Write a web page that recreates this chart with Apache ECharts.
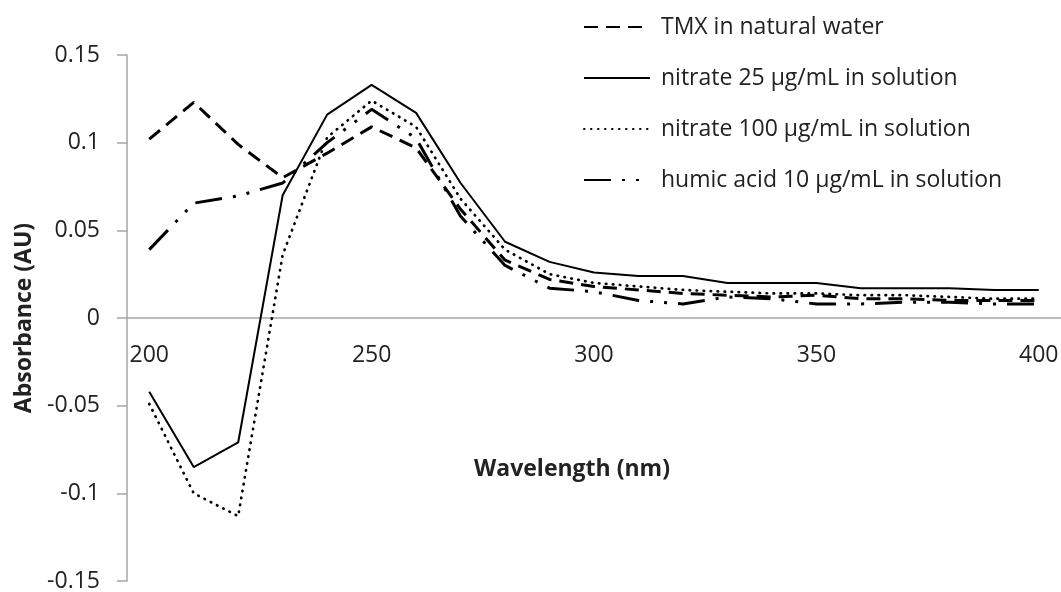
<!DOCTYPE html>
<html>
<head>
<meta charset="utf-8">
<script src="https://cdn.jsdelivr.net/npm/echarts@6/dist/echarts.min.js"></script>
<style>
  html, body { margin: 0; padding: 0; background: #fff; }
  #chart { width: 1061px; height: 592px; }
</style>
</head>
<body>
<div id="chart"></div>
<script>
const wavelengths = ['200', '210', '220', '230', '240', '250', '260', '270', '280', '290', '300',
  '310', '320', '330', '340', '350', '360', '370', '380', '390', '400'];

const tmxWater = [0.102, 0.123, 0.099, 0.080, 0.094, 0.109, 0.097, 0.062, 0.033, 0.022, 0.018,
  0.016, 0.014, 0.013, 0.012, 0.013, 0.011, 0.011, 0.010, 0.010, 0.010];

const nitrate25 = [-0.042, -0.085, -0.071, 0.070, 0.116, 0.133, 0.117, 0.077, 0.0435, 0.032, 0.026,
  0.024, 0.024, 0.020, 0.020, 0.020, 0.017, 0.017, 0.017, 0.016, 0.016];

const nitrate100 = [-0.049, -0.100, -0.113, 0.036, 0.103, 0.124, 0.109, 0.068, 0.039, 0.025, 0.020,
  0.018, 0.016, 0.015, 0.014, 0.014, 0.013, 0.013, 0.012, 0.011, 0.011];

const humic10 = [0.039, 0.0655, 0.0696, 0.077, 0.100, 0.119, 0.1025, 0.058, 0.030, 0.017, 0.015,
  0.010, 0.008, 0.012, 0.011, 0.008, 0.008, 0.009, 0.009, 0.008, 0.008];

const seriesNames = [
  'TMX in natural water',
  'nitrate 25 \u00b5g/mL in solution',
  'nitrate 100 \u00b5g/mL in solution',
  'humic acid 10 \u00b5g/mL in solution'
];

const font = '"Open Sans", "Noto Sans", sans-serif';
const textColor = '#222';
const axisColor = '#a6a6a6';

// plot box, in px
const gridTop = 55;
const gridBottom = 11;
const plotHeight = 592 - gridTop - gridBottom;
// the category axis sits on y = 0, the middle of the -0.15..0.15 range
const zeroOffset = -plotHeight / 2;

const chart = echarts.init(document.getElementById('chart'), null, { renderer: 'canvas' });

function lineSeries(name, data, lineStyle) {
  return {
    name: name,
    type: 'line',
    data: data,
    symbol: 'none',
    showSymbol: false,
    smooth: false,
    lineStyle: Object.assign({ color: '#000' }, lineStyle),
    itemStyle: { color: '#000' }
  };
}

const options = {
  animation: false,
  backgroundColor: '#fff',
  grid: {
    left: 127,
    right: 0,
    top: gridTop,
    bottom: gridBottom,
    containLabel: false,
    outerBoundsMode: 'none'
  },
  legend: {
    orient: 'vertical',
    left: 578,
    top: 7,
    itemWidth: 66,
    itemHeight: 14,
    itemGap: 21,
    itemStyle: { opacity: 0 },
    textStyle: {
      fontFamily: font,
      fontSize: 23,
      color: textColor,
      lineHeight: 30,
      padding: [0, 0, 0, 6]
    },
    data: seriesNames
  },
  xAxis: {
    type: 'category',
    data: wavelengths,
    boundaryGap: true,
    position: 'bottom',
    offset: zeroOffset,
    name: 'Wavelength (nm)',
    nameLocation: 'middle',
    nameGap: 140,
    nameTextStyle: {
      fontFamily: font,
      fontSize: 23,
      fontWeight: 'bold',
      color: textColor,
      padding: [0, 44, 0, 0]
    },
    axisLine: { show: true, onZero: false, lineStyle: { color: axisColor, width: 1.5 } },
    axisTick: { show: false },
    axisLabel: {
      show: true,
      interval: 4,
      margin: 26,
      fontFamily: font,
      fontSize: 23,
      color: textColor
    },
    splitLine: { show: false }
  },
  yAxis: {
    type: 'value',
    min: -0.15,
    max: 0.15,
    interval: 0.05,
    name: 'Absorbance (AU)',
    nameLocation: 'middle',
    nameGap: 81,
    nameTextStyle: {
      fontFamily: font,
      fontSize: 23,
      fontWeight: 'bold',
      color: textColor
    },
    axisLine: { show: true, lineStyle: { color: axisColor, width: 1.5 } },
    axisTick: { show: true, inside: false, length: 10, lineStyle: { color: axisColor, width: 1.5 } },
    axisLabel: {
      margin: 27,
      fontFamily: font,
      fontSize: 23,
      color: textColor,
      formatter: function (v) { return String(Math.round(v * 100) / 100); }
    },
    splitLine: { show: false }
  },
  series: [
    lineSeries(seriesNames[0], tmxWater, { width: 3, type: [14, 8] }),
    lineSeries(seriesNames[1], nitrate25, { width: 2, type: 'solid' }),
    lineSeries(seriesNames[2], nitrate100, { width: 2.7, type: [0.5, 6.5], cap: 'round' }),
    lineSeries(seriesNames[3], humic10, { width: 3, type: [27, 11, 3, 11, 3, 11] })
  ]
};

chart.setOption(options);
</script>
</body>
</html>
